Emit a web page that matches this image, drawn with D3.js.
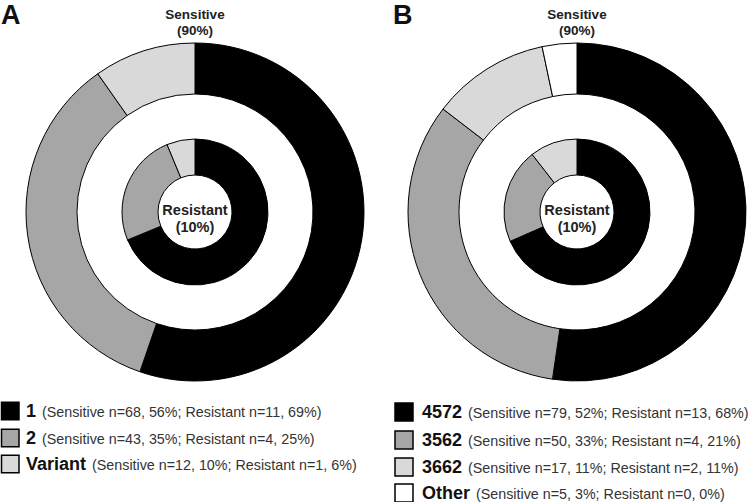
<!DOCTYPE html>
<html><head><meta charset="utf-8">
<script src="https://cdn.jsdelivr.net/npm/d3@7"></script>
<style>body{margin:0;background:#fff}svg{display:block}</style>
</head><body>
<script>
const categoriesA = ["1", "2", "Variant"];
const sensitiveA = [68, 43, 12];
const resistantA = [11, 4, 1];
const legendA = ["(Sensitive n=68, 56%; Resistant n=11, 69%)", "(Sensitive n=43, 35%; Resistant n=4, 25%)", "(Sensitive n=12, 10%; Resistant n=1, 6%)"];

const categoriesB = ["4572", "3562", "3662", "Other"];
const sensitiveB = [79, 50, 17, 5];
const resistantB = [13, 4, 2, 0];
const legendB = ["(Sensitive n=79, 52%; Resistant n=13, 68%)", "(Sensitive n=50, 33%; Resistant n=4, 21%)", "(Sensitive n=17, 11%; Resistant n=2, 11%)", "(Sensitive n=5, 3%; Resistant n=0, 0%)"];

const colors = ["#000000", "#a6a6a6", "#d9d9d9", "#ffffff"];
const font = "'Liberation Sans', Arial, sans-serif";

const svg = d3.select("body").append("svg").attr("width", 750).attr("height", 502);

function panel(letter, lx, cx, cy, cats, sens, res, legend, leg) {
  const g = svg.append("g");
  g.append("text").attr("x", lx).attr("y", 24).text(letter)
    .attr("font-family", font).attr("font-weight", "bold").attr("font-size", 27).attr("fill", "#111");
  const pie = d3.pie().sort(null).value(d => d);
  const outerArc = d3.arc().innerRadius(118).outerRadius(169);
  const innerArc = d3.arc().innerRadius(37).outerRadius(73);
  const c = g.append("g").attr("transform", `translate(${cx},${cy})`);
  c.selectAll("path.o").data(pie(sens)).join("path").attr("class", "o")
    .attr("d", outerArc).attr("fill", (d, i) => colors[i])
    .attr("stroke", "#000").attr("stroke-width", 1);
  c.selectAll("path.i").data(pie(res).filter(d => d.value > 0)).join("path").attr("class", "i")
    .attr("d", innerArc).attr("fill", d => colors[d.index])
    .attr("stroke", "#000").attr("stroke-width", 1);
  g.append("text").attr("x", cx).attr("y", 19).attr("text-anchor", "middle").text("Sensitive")
    .attr("font-family", font).attr("font-weight", "bold").attr("font-size", 13.5).attr("fill", "#222");
  g.append("text").attr("x", cx).attr("y", 35).attr("text-anchor", "middle").text("(90%)")
    .attr("font-family", font).attr("font-weight", "bold").attr("font-size", 13.5).attr("fill", "#222");
  g.append("text").attr("x", cx).attr("y", cy + 3).attr("text-anchor", "middle").text("Resistant")
    .attr("font-family", font).attr("font-weight", "bold").attr("font-size", 14.5).attr("fill", "#222");
  g.append("text").attr("x", cx).attr("y", cy + 20).attr("text-anchor", "middle").text("(10%)")
    .attr("font-family", font).attr("font-weight", "bold").attr("font-size", 14.5).attr("fill", "#222");

  cats.forEach((cat, i) => {
    const y = leg.rows[i];
    g.append("rect").attr("x", leg.sx).attr("y", y - leg.s / 2).attr("width", leg.s).attr("height", leg.s)
      .attr("fill", colors[i]).attr("stroke", "#000").attr("stroke-width", 1.5);
    const t = g.append("text").attr("x", leg.tx).attr("y", y + 6)
      .attr("font-family", font).attr("fill", "#111");
    t.append("tspan").text(cat).attr("font-weight", "bold").attr("font-size", 18);
    t.append("tspan").text(legend[i]).attr("dx", 6).attr("font-size", 14.3).attr("fill", "#333");
  });
}

panel("A", 1, 195, 212, categoriesA, sensitiveA, resistantA, legendA,
  {sx: 1.5, s: 17.5, tx: 26, rows: [411, 438, 464]});
panel("B", 393, 577, 212, categoriesB, sensitiveB, resistantB, legendB,
  {sx: 395, s: 18, tx: 422, rows: [412, 440, 467, 493]});
</script>
</body></html>
